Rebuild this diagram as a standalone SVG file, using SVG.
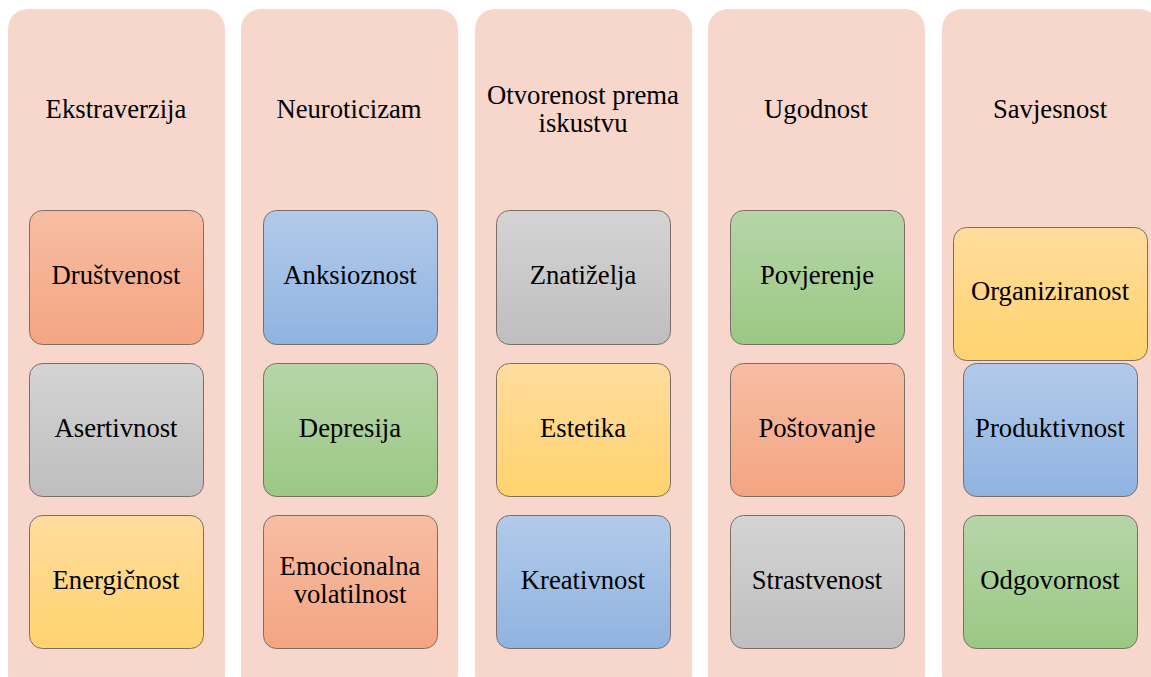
<svg xmlns="http://www.w3.org/2000/svg" width="1151" height="677" viewBox="0 0 1151 677">
<defs>
<linearGradient id="gO" x1="0" y1="0" x2="0" y2="1"><stop offset="0" stop-color="#F7BDA3"/><stop offset="1" stop-color="#F4A582"/></linearGradient>
<linearGradient id="gG" x1="0" y1="0" x2="0" y2="1"><stop offset="0" stop-color="#D4D4D4"/><stop offset="1" stop-color="#BEBEBE"/></linearGradient>
<linearGradient id="gY" x1="0" y1="0" x2="0" y2="1"><stop offset="0" stop-color="#FFDC9E"/><stop offset="1" stop-color="#FFD36E"/></linearGradient>
<linearGradient id="gB" x1="0" y1="0" x2="0" y2="1"><stop offset="0" stop-color="#B2CAEA"/><stop offset="1" stop-color="#8FB3E0"/></linearGradient>
<linearGradient id="gE" x1="0" y1="0" x2="0" y2="1"><stop offset="0" stop-color="#B6D5A8"/><stop offset="1" stop-color="#9BC883"/></linearGradient>
</defs>
<style>
.col{fill:#F7D7CC}
.box{stroke:#7C6E66;stroke-width:1}
text{font-family:"Liberation Serif","Times New Roman",serif;font-size:26.7px;fill:#000;text-anchor:middle}
</style>
<rect width="1151" height="677" fill="#fff"/>
<g id="col1">
<rect class="col" x="8" y="9" width="217" height="685" rx="20"/>
<text x="116" y="118">Ekstraverzija</text>
</g>
<g id="col2">
<rect class="col" x="241" y="9" width="217" height="685" rx="20"/>
<text x="349" y="118">Neuroticizam</text>
</g>
<g id="col3">
<rect class="col" x="475" y="9" width="217" height="685" rx="20"/>
<text x="583" y="104">Otvorenost prema</text>
<text x="583" y="132">iskustvu</text>
</g>
<g id="col4">
<rect class="col" x="708" y="9" width="217" height="685" rx="20"/>
<text x="816" y="118">Ugodnost</text>
</g>
<g id="col5">
<rect class="col" x="942" y="9" width="217" height="685" rx="20"/>
<text x="1050" y="118">Savjesnost</text>
</g>
<g id="n-drustvenost"><rect class="box" x="29.5" y="210.5" width="174" height="134" rx="13" fill="url(#gO)"/><text x="116" y="284">Društvenost</text></g>
<g id="n-asertivnost"><rect class="box" x="29.5" y="363.5" width="174" height="133" rx="13" fill="url(#gG)"/><text x="116" y="437">Asertivnost</text></g>
<g id="n-energicnost"><rect class="box" x="29.5" y="515.5" width="174" height="133" rx="13" fill="url(#gY)"/><text x="116" y="589">Energičnost</text></g>
<g id="n-anksioznost"><rect class="box" x="263.5" y="210.5" width="174" height="134" rx="13" fill="url(#gB)"/><text x="350" y="284">Anksioznost</text></g>
<g id="n-depresija"><rect class="box" x="263.5" y="363.5" width="174" height="133" rx="13" fill="url(#gE)"/><text x="350" y="437">Depresija</text></g>
<g id="n-emocionalna"><rect class="box" x="263.5" y="515.5" width="174" height="133" rx="13" fill="url(#gO)"/><text x="350" y="575">Emocionalna</text><text x="350" y="603">volatilnost</text></g>
<g id="n-znatizelja"><rect class="box" x="496.5" y="210.5" width="174" height="134" rx="13" fill="url(#gG)"/><text x="583" y="284">Znatiželja</text></g>
<g id="n-estetika"><rect class="box" x="496.5" y="363.5" width="174" height="133" rx="13" fill="url(#gY)"/><text x="583" y="437">Estetika</text></g>
<g id="n-kreativnost"><rect class="box" x="496.5" y="515.5" width="174" height="133" rx="13" fill="url(#gB)"/><text x="583" y="589">Kreativnost</text></g>
<g id="n-povjerenje"><rect class="box" x="730.5" y="210.5" width="174" height="134" rx="13" fill="url(#gE)"/><text x="817" y="284">Povjerenje</text></g>
<g id="n-postovanje"><rect class="box" x="730.5" y="363.5" width="174" height="133" rx="13" fill="url(#gO)"/><text x="817" y="437">Poštovanje</text></g>
<g id="n-strastvenost"><rect class="box" x="730.5" y="515.5" width="174" height="133" rx="13" fill="url(#gG)"/><text x="817" y="589">Strastvenost</text></g>
<g id="n-produktivnost"><rect class="box" x="963.5" y="363.5" width="174" height="133" rx="13" fill="url(#gB)"/><text x="1050" y="437">Produktivnost</text></g>
<g id="n-organiziranost"><rect class="box" x="953.5" y="227.5" width="194" height="133" rx="13" fill="url(#gY)"/><text x="1050" y="300">Organiziranost</text></g>
<g id="n-odgovornost"><rect class="box" x="963.5" y="515.5" width="174" height="133" rx="13" fill="url(#gE)"/><text x="1050" y="589">Odgovornost</text></g>
<g id="connectors"></g>
</svg>
